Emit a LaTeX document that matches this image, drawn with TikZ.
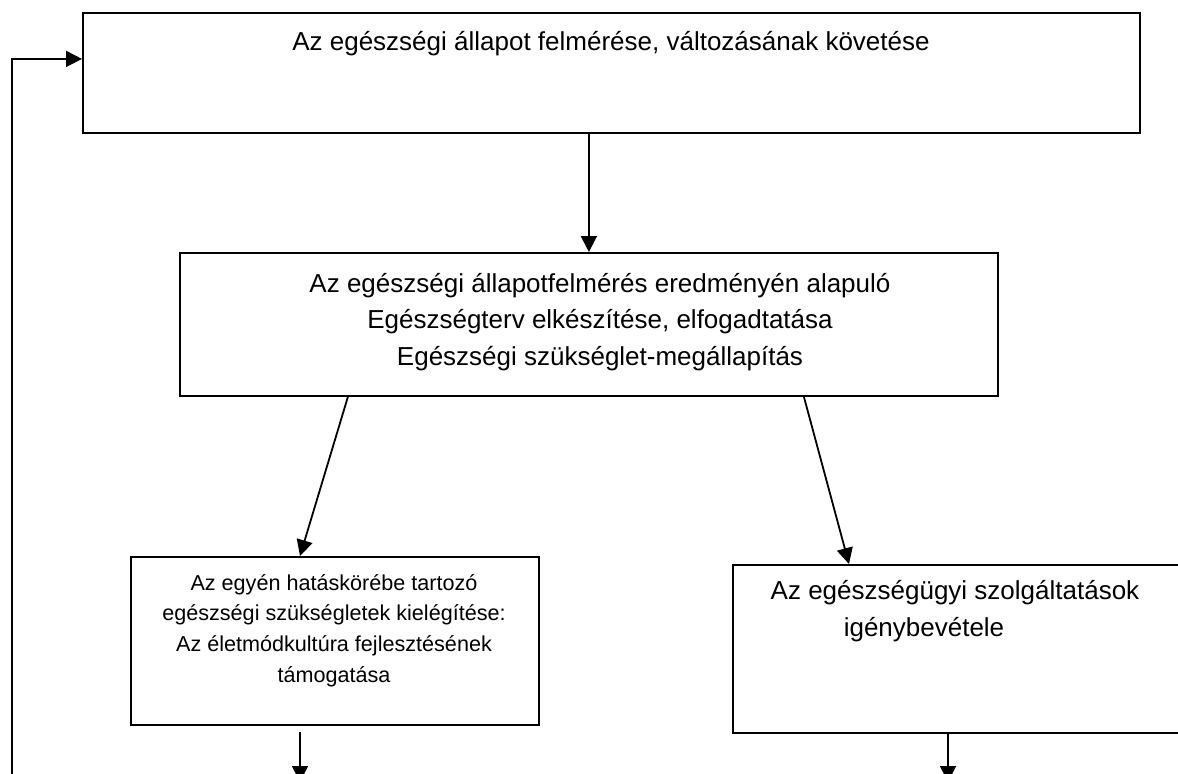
\documentclass[tikz,border=0pt]{standalone}
\usepackage{fontspec}
\setmainfont{Liberation Sans}
\usetikzlibrary{arrows.meta}

\tikzset{
  box/.style={draw, line width=0.9pt, inner sep=0pt, anchor=north west},
  caption/.style={align=center, font=\fontsize{13}{18.25}\selectfont, anchor=base},
  smallcaption/.style={align=center, font=\fontsize{10.8}{15.3}\selectfont, anchor=base},
  arr/.style={line width=0.9pt, -{Triangle[length=8pt,width=8pt]}}
}

\begin{document}
\begin{tikzpicture}[x=0.5pt, y=-0.5pt]
	\useasboundingbox (0,0) rectangle (1178,773);
	% boxes
	\node[box, minimum width=528.5pt, minimum height=60pt] (survey) at (82,12) {};
	\node[box, minimum width=409pt, minimum height=71.5pt] (plan) at (179,252) {};
	\node[box, minimum width=204pt, minimum height=84pt] (self) at (130,556) {};
	\node[box, minimum width=240pt, minimum height=84pt] (service) at (732,564) {};
	% texts (base = last line)
	\node[caption] (survey-text) at (611,50) {Az egészségi állapot felmérése, változásának követése};
	\node[caption] (plan-text) at (600,365) {Az egészségi állapotfelmérés eredményén alapuló\\ Egészségterv elkészítése, elfogadtatása\\ Egészségi szükséglet-megállapítás};
	\node[smallcaption] (self-text) at (334,682) {Az egyén hatáskörébe tartozó\\ egészségi szükségletek kielégítése:\\ Az életmódkultúra fejlesztésének\\ támogatása};
	\node[caption] (service-text) at (955,636) {Az egészségügyi szolgáltatások\\ igénybevétele\hspace*{31pt}};
	% arrows
	\coordinate (loop-in) at (12,782);
	\draw[arr] (loop-in) |- ([yshift=7pt]survey.west);
	\draw[arr] (survey.south -| plan.north) -- (plan.north);
	\draw[arr] ([xshift=-120.5pt]plan.south) -- ([xshift=85pt]self.north west);
	\draw[arr] ([xshift=107.5pt]plan.south) -- ([xshift=58.5pt]service.north west);
	\coordinate (self-out) at (300,782);
	\draw[arr] ([shift={(85pt,-3pt)}]self.south west) -- (self-out);
	\coordinate (service-out) at (948,782);
	\draw[arr] ([xshift=108pt]service.south west) -- (service-out);
\end{tikzpicture}
\end{document}
